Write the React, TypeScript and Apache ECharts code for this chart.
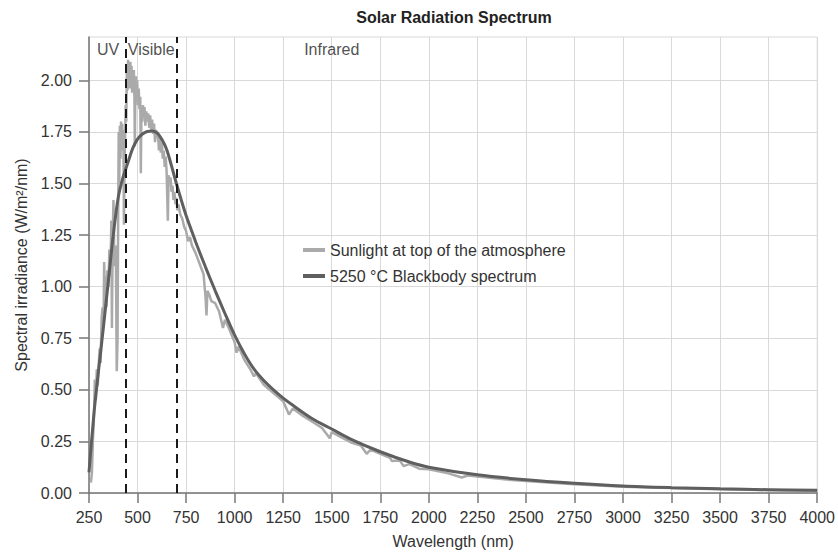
import React, { useEffect, useRef } from "react";
import * as echarts from "echarts";

// Blackbody (5250 °C) curve
const bbWavelength = [250, 275, 300, 325, 350, 375, 400, 425, 450, 475, 500, 525, 550, 575, 600, 625, 650, 675, 700, 725, 750, 775, 800, 850, 900, 950, 1000, 1050, 1100, 1150, 1200, 1250, 1300, 1400, 1500, 1600, 1750, 1900, 2000, 2250, 2500, 2750, 3000, 3250, 3500, 3750, 4000];
const bbIrradiance = [0.10, 0.38, 0.60, 0.81, 1.03, 1.25, 1.43, 1.53, 1.60, 1.67, 1.715, 1.74, 1.752, 1.754, 1.745, 1.715, 1.665, 1.585, 1.50, 1.42, 1.345, 1.28, 1.215, 1.095, 0.98, 0.87, 0.765, 0.675, 0.60, 0.545, 0.50, 0.46, 0.425, 0.36, 0.31, 0.26, 0.20, 0.15, 0.125, 0.088, 0.064, 0.047, 0.034, 0.026, 0.020, 0.016, 0.013];

// Sunlight at top of the atmosphere
const sunWavelength = [260, 265, 270, 275, 280, 285, 290, 295, 300, 305, 310, 315, 320, 325, 328, 332, 336, 340, 345, 350, 355, 360, 365, 368, 372, 376, 380, 384, 388, 393, 397, 400, 403, 406, 409, 412, 415, 418, 421, 424, 427, 430, 433, 436, 439, 442, 445, 448, 451, 454, 457, 460, 463, 466, 469, 472, 475, 478, 481, 484, 486, 489, 492, 495, 498, 502, 506, 510, 514, 517, 520, 524, 528, 532, 536, 540, 545, 550, 555, 560, 565, 570, 575, 580, 585, 590, 595, 600, 605, 610, 615, 620, 625, 630, 635, 640, 645, 650, 656, 660, 665, 670, 675, 680, 685, 690, 695, 700, 705, 710, 720, 730, 740, 750, 760, 770, 780, 800, 820, 840, 850, 855, 860, 870, 880, 900, 920, 940, 950, 970, 1000, 1010, 1020, 1050, 1080, 1100, 1110, 1150, 1200, 1250, 1280, 1300, 1350, 1400, 1450, 1490, 1500, 1550, 1600, 1650, 1680, 1700, 1750, 1800, 1810, 1850, 1870, 1900, 1950, 2000, 2100, 2170, 2200, 2300, 2400, 2500, 2750, 3000, 3500, 4000];
const sunIrradiance = [0.05, 0.10, 0.25, 0.35, 0.55, 0.45, 0.60, 0.52, 0.62, 0.70, 0.63, 0.85, 0.90, 0.82, 1.12, 0.95, 1.05, 0.90, 1.08, 1.00, 1.18, 1.05, 1.32, 0.80, 1.25, 1.42, 1.15, 1.10, 1.20, 0.59, 0.75, 1.30, 1.75, 1.50, 1.78, 1.62, 1.80, 1.70, 1.79, 1.66, 1.76, 1.30, 1.60, 1.72, 1.88, 1.80, 2.06, 1.95, 2.10, 1.98, 2.08, 1.96, 2.09, 2.00, 2.07, 1.94, 2.04, 1.96, 2.05, 1.92, 1.68, 1.98, 2.02, 1.90, 2.00, 1.88, 1.96, 1.86, 1.92, 1.55, 1.86, 1.80, 1.88, 1.82, 1.87, 1.78, 1.85, 1.80, 1.84, 1.77, 1.83, 1.76, 1.81, 1.74, 1.79, 1.70, 1.76, 1.72, 1.75, 1.66, 1.72, 1.65, 1.70, 1.62, 1.66, 1.58, 1.63, 1.55, 1.32, 1.54, 1.50, 1.53, 1.46, 1.49, 1.42, 1.46, 1.40, 1.43, 1.37, 1.40, 1.35, 1.33, 1.29, 1.27, 1.22, 1.24, 1.20, 1.16, 1.11, 1.06, 0.95, 0.86, 0.98, 0.96, 0.93, 0.92, 0.88, 0.80, 0.84, 0.80, 0.73, 0.68, 0.71, 0.645, 0.60, 0.565, 0.58, 0.525, 0.485, 0.445, 0.38, 0.41, 0.375, 0.345, 0.315, 0.265, 0.295, 0.27, 0.245, 0.23, 0.19, 0.21, 0.19, 0.17, 0.155, 0.158, 0.13, 0.14, 0.118, 0.115, 0.095, 0.075, 0.085, 0.075, 0.065, 0.058, 0.042, 0.030, 0.018, 0.011];

// Region boundaries and labels
const regionBounds = [440, 700];
const regionLabels = ["UV", "Visible", "Infrared"];
const regionLabelX = [291, 450, 1358];
const regionLabelY = 2.15;

// Axis ticks
const yTicks = [0, 0.25, 0.5, 0.75, 1.0, 1.25, 1.5, 1.75, 2.0];

const seriesNames = ["Sunlight at top of the atmosphere", "5250 °C Blackbody spectrum"];

const FONT = "'Liberation Sans', Arial, sans-serif";

export default function App() {
  const ref = useRef<HTMLDivElement>(null);

  useEffect(() => {
    document.body.style.margin = "0";
    if (!ref.current) return;
    const chart = echarts.init(ref.current, undefined, { renderer: "svg" });

    const sunData = sunWavelength.map((w, i) => [w, sunIrradiance[i]]);
    const bbData = bbWavelength.map((w, i) => [w, bbIrradiance[i]]);
    const labelData = regionLabels.map((n, i) => ({ name: n, value: [regionLabelX[i], regionLabelY] }));

    chart.setOption({
      animation: false,
      textStyle: { fontFamily: FONT },
      title: {
        text: "Solar Radiation Spectrum",
        left: 449,
        top: 4,
        textAlign: "center",
        textStyle: { fontSize: 16, fontWeight: "bold", color: "#222", fontFamily: FONT },
      },
      grid: {
        left: 89,
        right: 18,
        top: 37,
        bottom: 59,
        show: true,
        borderColor: "#d9d9d9",
        borderWidth: 1,
      },
      legend: {
        data: seriesNames,
        orient: "vertical",
        left: 298,
        top: 237,
        itemGap: 10,
        itemWidth: 22,
        itemHeight: 4,
        icon: "rect",
        textStyle: { fontSize: 16, color: "#333", fontFamily: FONT },
      },
      xAxis: {
        type: "value",
        min: 250,
        max: 4000,
        interval: 250,
        name: "Wavelength (nm)",
        nameLocation: "middle",
        nameGap: 40,
        nameTextStyle: { fontSize: 16, color: "#333", fontFamily: FONT },
        axisLine: { show: true, lineStyle: { color: "#777", width: 1.5 } },
        axisTick: { show: true, length: 10, lineStyle: { color: "#777", width: 1.5 } },
        axisLabel: { fontSize: 16, color: "#333", margin: 16, fontFamily: FONT, formatter: (v: number) => String(v) },
        splitLine: { show: true, lineStyle: { color: "#d9d9d9", width: 1 } },
      },
      yAxis: {
        type: "value",
        min: 0,
        max: 2.21,
        interval: 0.25,
        name: "Spectral irradiance (W/m²/nm)",
        nameLocation: "middle",
        nameGap: 58,
        nameTextStyle: { fontSize: 16, color: "#333", fontFamily: FONT },
        axisLine: { show: true, lineStyle: { color: "#777", width: 1.5 } },
        axisTick: { show: true, length: 10, lineStyle: { color: "#777", width: 1.5 }, customValues: yTicks },
        axisLabel: {
          fontSize: 16,
          color: "#333",
          margin: 17,
          fontFamily: FONT,
          customValues: yTicks,
          formatter: (v: number) => v.toFixed(2),
        },
        splitLine: { show: true, lineStyle: { color: "#d9d9d9", width: 1 } },
      },
      series: [
        {
          name: seriesNames[0],
          type: "line",
          data: sunData,
          symbol: "none",
          color: "#aaaaaa",
          lineStyle: { color: "#aaaaaa", width: 2.5 },
          z: 2,
        },
        {
          name: seriesNames[1],
          type: "line",
          data: bbData,
          symbol: "none",
          smooth: 0.3,
          color: "#5f5f5f",
          lineStyle: { color: "#5f5f5f", width: 3 },
          z: 3,
          markLine: {
            silent: true,
            symbol: ["none", "none"],
            label: { show: false },
            lineStyle: { color: "#1a1a1a", type: [9, 6], width: 2 },
            data: regionBounds.map((b) => ({ xAxis: b })),
          },
        },
        {
          name: "regions",
          type: "scatter",
          data: labelData,
          symbolSize: 0,
          silent: true,
          z: 4,
          label: {
            show: true,
            position: "right",
            distance: 0,
            formatter: "{b}",
            fontSize: 16,
            color: "#222",
            fontFamily: FONT,
          },
        },
      ],
    });

    return () => chart.dispose();
  }, []);

  return <div ref={ref} style={{ width: 838, height: 554 }} />;
}
